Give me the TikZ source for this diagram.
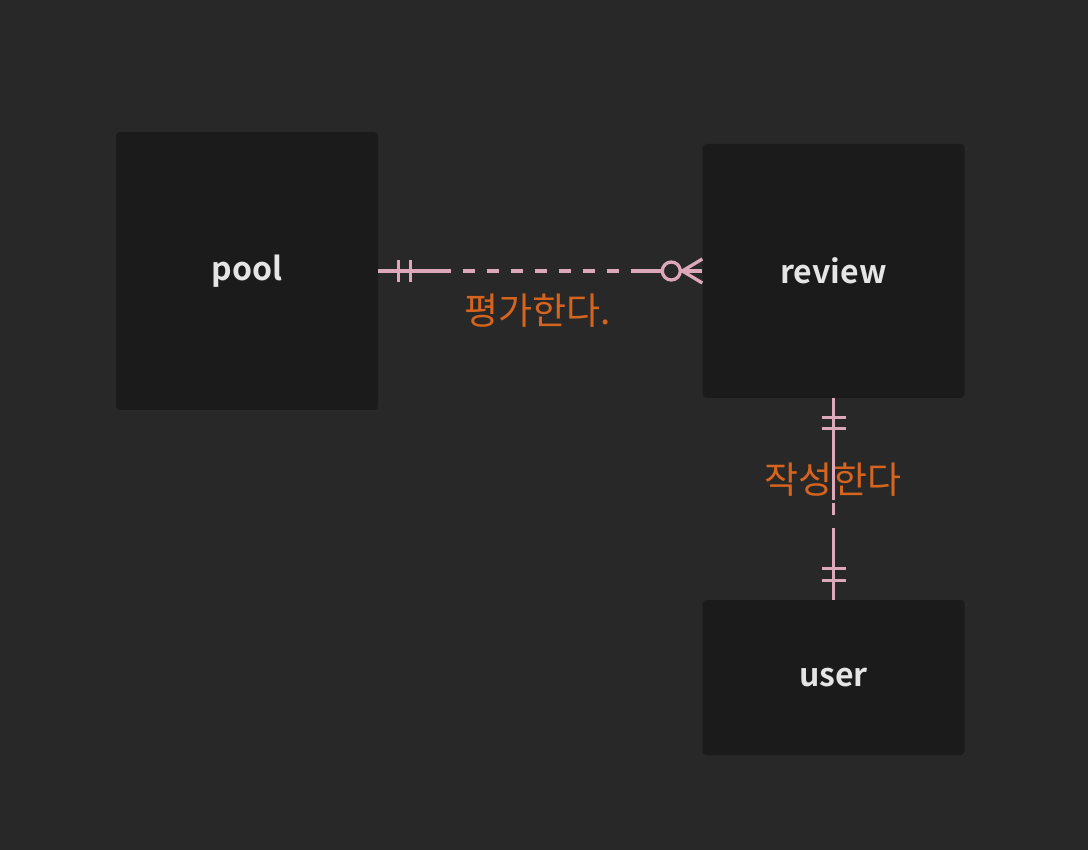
\documentclass[tikz,border=0pt]{standalone}
\usepackage{fontspec}
\setmainfont{Noto Sans CJK KR}[BoldFont={Noto Sans CJK KR Bold}]
\usetikzlibrary{positioning,calc}
\definecolor{bgcol}{HTML}{282828}
\definecolor{boxcol}{HTML}{1B1B1B}
\definecolor{relcol}{HTML}{DCA8BA}
\definecolor{labcol}{HTML}{D4641E}
\tikzset{
  entity/.style={fill=boxcol,rounded corners=4pt,minimum width=262pt,inner sep=0pt,
    text=white!90!black,font=\bfseries\fontsize{32}{34}\selectfont},
  rel/.style={draw=relcol,line width=3.3pt},
  reldash/.style={rel,dash pattern=on 12pt off 12pt,dash phase=12pt},
  rellabel/.style={text=labcol,font=\fontsize{37}{40}\selectfont},
}

\begin{document}
\begin{tikzpicture}[x=1pt,y=-1pt]
\fill[bgcol] (0,0) rectangle (1088,850);
% entities
\node[entity,minimum height=278pt] (pool) at (247,271) {pool};
\node[entity,minimum height=254pt] (review) at (833.5,271) {review};
\node[entity,minimum height=155pt] (user) at (833.5,677.5) {user};

% pool -- review
\coordinate (pa) at ($(pool.east)+(73,0)$);
\coordinate (pb) at ($(review.west)+(-70,0)$);
\coordinate (pc) at ($(review.west)+(-31,0)$);
\draw[rel] (pool.east) -- (pa);
\draw[reldash] (pa) -- (pb);
\draw[rel] (pb) -- ($(pc)+(-9,0)$);
\draw[rel] (pc) circle (9pt);
\draw[rel] ($(pc)+(9,0)$) -- (review.west);
\draw[rel] ($(pc)+(11,0)$) -- ($(review.west)+(0,-12)$);
\draw[rel] ($(pc)+(11,0)$) -- ($(review.west)+(0,12)$);
\foreach \dx in {20,32}
  \draw[rel] ($(pool.east)+(\dx,-11)$) -- ($(pool.east)+(\dx,11)$);
\node[rellabel] (rate) at (538,311) {평가한다.};

% review -- user
\coordinate (ra) at ($(review.south)+(0,102)$);
\coordinate (rb) at ($(user.north)+(0,-72)$);
\draw[rel] (review.south) -- (ra);
\draw[rel] ($(review.south)+(0,105)$) -- ($(review.south)+(0,117)$);
\draw[rel] (rb) -- (user.north);
\foreach \dy in {19,30}
  \draw[rel] ($(review.south)+(-12,\dy)$) -- ($(review.south)+(12,\dy)$);
\foreach \dy in {19,31}
  \draw[rel] ($(user.north)+(-12,-\dy)$) -- ($(user.north)+(12,-\dy)$);
\node[rellabel] (write) at (833,480) {작성한다};
\end{tikzpicture}
\end{document}
